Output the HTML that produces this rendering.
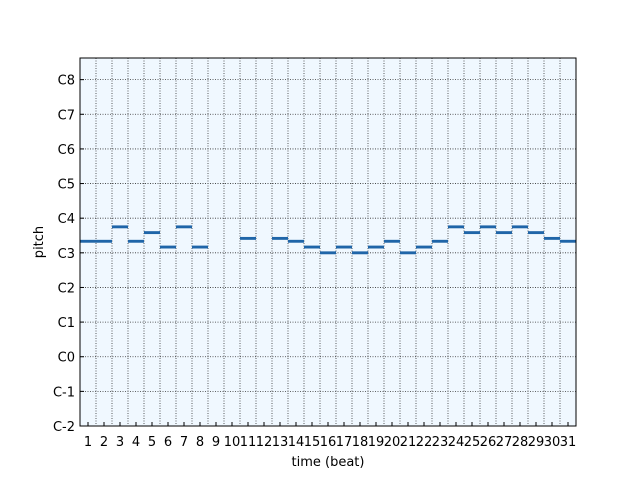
<!DOCTYPE html>
<html><head><meta charset="utf-8"><style>
body{margin:0;background:#fff}
svg text{font-family:"DejaVu Sans","Liberation Sans",sans-serif;font-size:13px;fill:#000}
</style></head><body>
<svg id="chart" width="640" height="480" xmlns="http://www.w3.org/2000/svg">
<rect x="80" y="58" width="496" height="368" fill="#f0f8ff"/>
<g id="grid"></g>
<g id="notes"></g>
<g id="xt"></g>
<g id="yt"></g>
<rect x="80" y="58" width="496" height="368" fill="none" stroke="#000" stroke-width="1"/>
<text x="328" y="466" text-anchor="middle">time (beat)</text>
<text x="43" y="242" text-anchor="middle" transform="rotate(-90 43 242)">pitch</text>
</svg>
<script>
const beats=[1,2,3,4,5,6,7,8,11,13,14,15,16,17,18,19,20,21,22,23,24,25,26,27,28,29,30,31];
const pitches=[64,64,69,64,67,62,69,62,65,65,64,62,60,62,60,62,64,60,62,64,69,67,69,67,69,67,65,64];
const yTickLabels=["C-2","C-1","C0","C1","C2","C3","C4","C5","C6","C7","C8"];
const yTickValues=[0,12,24,36,48,60,72,84,96,108,120];
const nBeats=31;
const NS="http://www.w3.org/2000/svg";
const X0=80,X1=576,Y0=58,Y1=426,PMIN=0,PMAX=127.5;
const xs=b=>X0+(b)*(X1-X0)/nBeats;
const ys=p=>Y1-(p-PMIN)*(Y1-Y0)/(PMAX-PMIN);
function mk(t,a,parent){const e=document.createElementNS(NS,t);for(const k in a)e.setAttribute(k,a[k]);parent.appendChild(e);return e;}
const grid=document.getElementById('grid'),notes=document.getElementById('notes'),xt=document.getElementById('xt'),yt=document.getElementById('yt');
for(let i=1;i<nBeats;i++){
  const l=mk('line',{x1:xs(i),x2:xs(i),y1:Y0,y2:Y1,stroke:'#333','stroke-width':0.8,'stroke-dasharray':'1,1.5'},grid);
  
  
}
for(let i=1;i<=nBeats;i++){
  const t=mk('text',{x:xs(i-0.5),y:446,'text-anchor':'middle'},xt);t.textContent=i;
  
  
  const tk=mk('line',{x1:xs(i-0.5),x2:xs(i-0.5),y1:Y1,y2:Y1-4,stroke:'#000'},xt);
  
  
}
yTickLabels.forEach((lab,i)=>{
  const y=ys(yTickValues[i]);
  if(i>0){const g=mk('line',{x1:X0,x2:X1,y1:y,y2:y,stroke:'#333','stroke-width':0.8,'stroke-dasharray':'1,1.5'},grid);
  
  }
  const tk=mk('line',{x1:X0,x2:X0+4,y1:y,y2:y,stroke:'#000'},yt);
  
  
  const t=mk('text',{x:75,y:y+5,'text-anchor':'end'},yt);t.textContent=lab;
  
  
});
beats.forEach((b,i)=>{
  const p=pitches[i];
  const r=mk('rect',{x:xs(b-1),y:ys(p+0.5),width:xs(b)-xs(b-1),height:ys(p-0.5)-ys(p+0.5),fill:'#1f65a8'},notes);
  
  
});
</script>
</body></html>
